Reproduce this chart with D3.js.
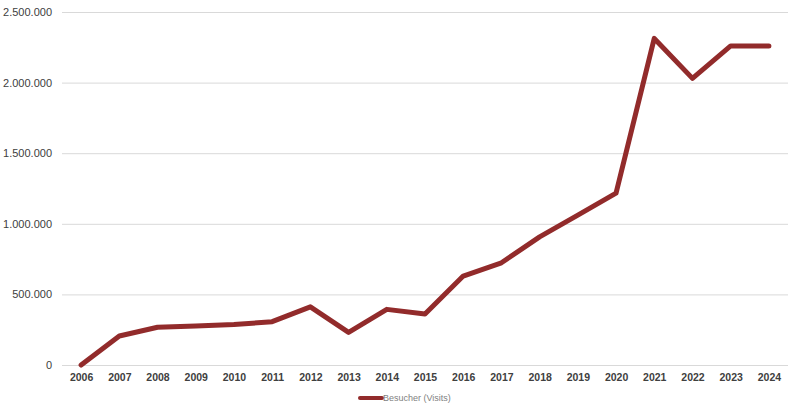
<!DOCTYPE html>
<html>
<head>
<meta charset="utf-8">
<script src="https://cdn.jsdelivr.net/npm/d3@7"></script>
<style>
body { margin: 0; background: #fff; }
text { font-family: "Liberation Sans", Arial, sans-serif; }
</style>
</head>
<body>
<div id="chart"></div>
<script>
// data
var years = ["2006","2007","2008","2009","2010","2011","2012","2013","2014","2015",
             "2016","2017","2018","2019","2020","2021","2022","2023","2024"];
var visits = [0, 205000, 267000, 276000, 286000, 307000, 412000, 231000, 394000, 361000,
              630000, 724000, 907000, 1062000, 1217000, 2313000, 2030000, 2260000, 2260000];
var yTicks = [0, 500000, 1000000, 1500000, 2000000, 2500000];
var seriesName = "Besucher (Visits)";

var width = 800, height = 413;
var margin = {top: 12, right: 12, bottom: 48, left: 62};

var svg = d3.select("#chart")
  .append("svg")
  .attr("width", width)
  .attr("height", height);

var x = d3.scalePoint()
  .domain(years)
  .range([margin.left, width - margin.right])
  .padding(0.5);

var y = d3.scaleLinear()
  .domain([0, 2500000])
  .range([height - margin.bottom, margin.top]);

var fmt = function(v) { return d3.format(",")(v).replace(/,/g, "."); };

// gridlines + y labels
var yAxis = svg.append("g")
  .attr("transform", "translate(" + margin.left + ",0)")
  .call(d3.axisLeft(y).tickValues(yTicks).tickFormat(fmt)
    .tickSize(-(width - margin.left - margin.right)).tickPadding(10));
yAxis.select(".domain").remove();
yAxis.selectAll("line").attr("stroke", "#d9d9d9").attr("stroke-width", 1);
yAxis.selectAll("text")
  .attr("fill", "#404040")
  .style("font-size", "11px")
  .style("font-weight", "normal");

// x labels
var xAxis = svg.append("g")
  .attr("transform", "translate(0," + (height - margin.bottom) + ")")
  .call(d3.axisBottom(x).tickSize(0).tickPadding(9));
xAxis.select(".domain").remove();
xAxis.selectAll("text")
  .attr("fill", "#404040")
  .style("font-size", "10.5px")
  .style("font-weight", "bold");

// line
var line = d3.line()
  .x(function(d, i) { return x(years[i]); })
  .y(function(d) { return y(d); });

svg.append("path")
  .datum(visits)
  .attr("fill", "none")
  .attr("stroke", "#922b2b")
  .attr("stroke-width", 5)
  .attr("stroke-linejoin", "round")
  .attr("stroke-linecap", "round")
  .attr("d", line);

// legend
var lg = svg.append("g").attr("transform", "translate(360,398)");
lg.append("line")
  .attr("x1", 0).attr("x2", 22)
  .attr("stroke", "#922b2b")
  .attr("stroke-width", 4)
  .attr("stroke-linecap", "round");
lg.append("text")
  .attr("x", 23)
  .attr("dy", "0.35em")
  .attr("fill", "#7f7f7f")
  .style("font-size", "9px")
  .text(seriesName);
</script>
</body>
</html>
